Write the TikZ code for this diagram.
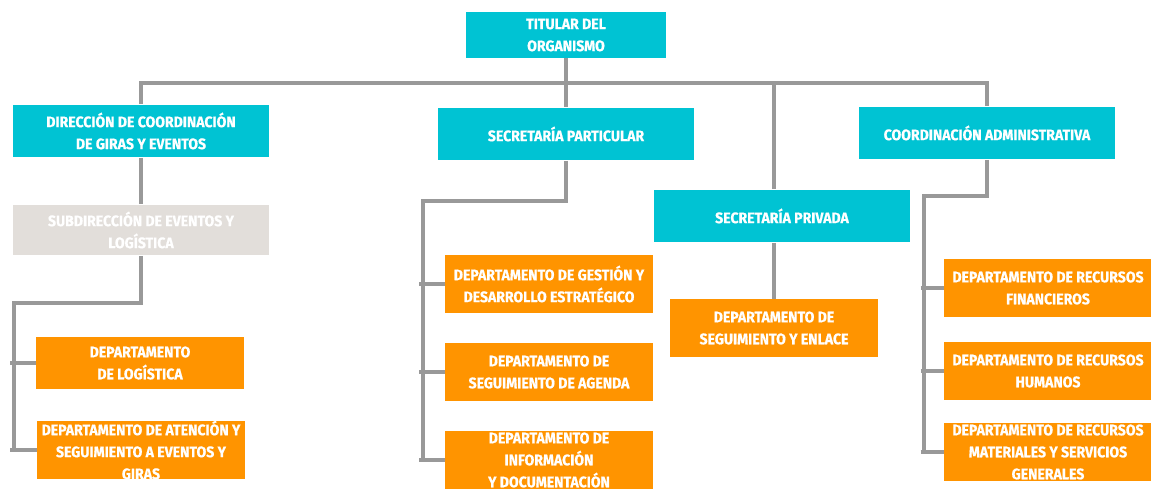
\documentclass[tikz,border=0pt]{standalone}
\usepackage{fontspec}
\setmainfont[FakeStretch=0.92, BoldFeatures={FakeBold=0.7}]{Fira Sans}
\definecolor{cajaazul}{RGB}{0,195,211}
\definecolor{cajanaranja}{RGB}{255,148,0}
\definecolor{cajagris}{RGB}{226,222,218}
\definecolor{linea}{RGB}{153,153,153}

\begin{document}
\begin{tikzpicture}[x=0.02cm, y=-0.02cm,
	caja/.style={fill=cajaazul, text=white, align=center, inner sep=0pt,
		font=\bfseries\fontsize{8.7}{12.5}\selectfont, minimum width=5.14cm, minimum height=1.06cm},
	subcaja/.style={caja, fill=cajagris},
	depto/.style={caja, fill=cajanaranja, minimum width=4.16cm, minimum height=1.16cm},
	conn/.style={draw=linea, line width=2.3pt}]
	\useasboundingbox (0,0) rectangle (1151,489);
	% cajas
	\node[caja, minimum width=4cm, minimum height=0.92cm] (tit) at (566,35) {TITULAR DEL\\ORGANISMO};
	\node[caja] (dcge) at (141,131) {DIRECCIÓN DE COORDINACIÓN\\DE GIRAS Y EVENTOS};
	\node[caja] (spart) at (566,134) {SECRETARÍA PARTICULAR};
	\node[caja] (spriv) at (782,216) {SECRETARÍA PRIVADA};
	\node[caja] (cadm) at (987,133) {COORDINACIÓN ADMINISTRATIVA};
	\node[subcaja, minimum height=1.02cm] (sdel) at (141,230) {SUBDIRECCIÓN DE EVENTOS Y\\LOGÍSTICA};
	\node[depto, minimum height=1.06cm] (dlog) at (140,363) {DEPARTAMENTO\\DE LOGÍSTICA};
	\node[depto] (date) at (141,450) {DEPARTAMENTO DE ATENCIÓN Y\\SEGUIMIENTO A EVENTOS Y\\GIRAS};
	\node[depto] (dgde) at (549,284) {DEPARTAMENTO DE GESTIÓN Y\\DESARROLLO ESTRATÉGICO};
	\node[depto] (dsa) at (549,372) {DEPARTAMENTO DE\\SEGUIMIENTO DE AGENDA};
	\node[depto] (did) at (549,460) {DEPARTAMENTO DE\\INFORMACIÓN\\Y DOCUMENTACIÓN};
	\node[depto] (dse) at (774,328) {DEPARTAMENTO DE\\SEGUIMIENTO Y ENLACE};
	\node[depto] (drf) at (1048,288) {DEPARTAMENTO DE RECURSOS\\FINANCIEROS};
	\node[depto] (drh) at (1048,371) {DEPARTAMENTO DE RECURSOS\\HUMANOS};
	\node[depto] (drm) at (1048,452) {DEPARTAMENTO DE RECURSOS\\MATERIALES Y SERVICIOS\\GENERALES};
	% lineas
	\coordinate (bus) at (566,83);
	\coordinate (ejeA) at (14,303);
	\coordinate (ejeB) at (423,201);
	\coordinate (ejeC) at (924,196);
	\draw[conn] (tit) -- (spart);
	\draw[conn] (dcge.north) |- (bus) -| (cadm.north);
	\draw[conn] (dse.north |- spriv.north) -- (dse.north |- bus);
	\draw[conn] (dcge) -- (sdel);
	\draw[conn] (dse.north |- spriv.south) -- (dse.north);
	% subdireccion
	\draw[conn] (sdel.south) |- (ejeA) -- (ejeA |- date.west);
	\draw[conn] ([xshift=-2pt]ejeA |- dlog.west) -- (dlog.west);
	\draw[conn] ([xshift=-2pt]ejeA |- date.west) -- (date.west);
	% secretaria particular
	\draw[conn] (spart.south) |- (ejeB) -- (ejeB |- did.west);
	\draw[conn] ([xshift=-2pt]ejeB |- dgde.west) -- (dgde.west);
	\draw[conn] ([xshift=-2pt]ejeB |- dsa.west) -- (dsa.west);
	\draw[conn] ([xshift=-2pt]ejeB |- did.west) -- (did.west);
	% coordinacion administrativa
	\draw[conn] (cadm.south) |- (ejeC) -- (ejeC |- drm.west);
	\draw[conn] ([xshift=-2pt]ejeC |- drf.west) -- (drf.west);
	\draw[conn] ([xshift=-2pt]ejeC |- drh.west) -- (drh.west);
	\draw[conn] ([xshift=-2pt]ejeC |- drm.west) -- (drm.west);
\end{tikzpicture}
\end{document}
